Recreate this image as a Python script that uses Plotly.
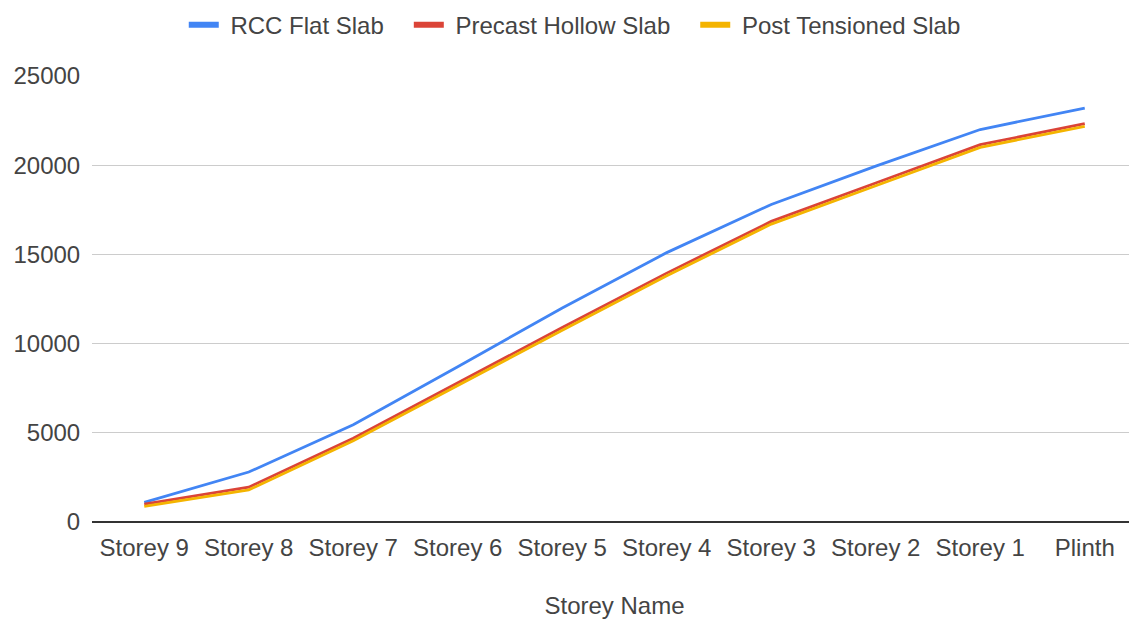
import plotly.graph_objects as go

categories = ["Storey 9", "Storey 8", "Storey 7", "Storey 6", "Storey 5",
              "Storey 4", "Storey 3", "Storey 2", "Storey 1", "Plinth"]
rcc_flat_slab = [1100, 2800, 5450, 8700, 12000, 15100, 17800, 19950, 22000, 23200]
precast_hollow_slab = [1000, 1950, 4700, 7800, 10900, 13950, 16850, 19000, 21150, 22330]
post_tensioned_slab = [880, 1800, 4550, 7650, 10750, 13800, 16700, 18850, 21000, 22180]
y_ticks = [0, 5000, 10000, 15000, 20000, 25000]

series = [
    ("RCC Flat Slab", rcc_flat_slab, "#4285F4"),
    ("Precast Hollow Slab", precast_hollow_slab, "#DB4437"),
    ("Post Tensioned Slab", post_tensioned_slab, "#F4B400"),
]

FONT = "Liberation Sans, Arial, sans-serif"
TXT = "#444444"
NB = "\u00a0"
fig = go.Figure()
for name, vals, color in series:
    fig.add_trace(go.Scatter(x=categories, y=vals, mode="lines", name=name,
                             line=dict(color=color, width=2.8), showlegend=False))
# legend swatches (thicker, as in the reference)
for i, (name, vals, color) in enumerate(series):
    label = NB + name + (NB * 3 if i < len(series) - 1 else "")
    fig.add_trace(go.Scatter(x=[None], y=[None], mode="lines", name=label,
                             line=dict(color=color, width=6), showlegend=True))

fig.update_layout(
    width=1129, height=615,
    margin=dict(l=84, r=0, t=68, b=101, autoexpand=False),
    paper_bgcolor="white", plot_bgcolor="white",
    font=dict(family=FONT, size=24, color=TXT),
    legend=dict(orientation="h", xref="container", yref="container",
                x=0.502, xanchor="center", y=0.972, yanchor="middle",
                font=dict(size=24, color=TXT), itemwidth=30,
                traceorder="normal", bgcolor="rgba(0,0,0,0)"),
    xaxis=dict(type="category", range=[-0.5, 9.5], showgrid=False,
               ticks="outside", ticklen=4, tickcolor="rgba(0,0,0,0)",
               tickfont=dict(size=24, color=TXT),
               showline=False, zeroline=False,
               title=dict(text="Storey Name", font=dict(size=24, color=TXT), standoff=37)),
    yaxis=dict(range=[0, 25000], tickvals=y_ticks, ticktext=[str(v) for v in y_ticks],
               showgrid=True, gridcolor="#cccccc", gridwidth=1,
               zeroline=True, zerolinecolor="#333333", zerolinewidth=1.5,
               ticks="outside", ticklen=6, tickcolor="rgba(0,0,0,0)",
               tickfont=dict(size=24, color=TXT), showline=False),
)

fig.write_html("out.html")
